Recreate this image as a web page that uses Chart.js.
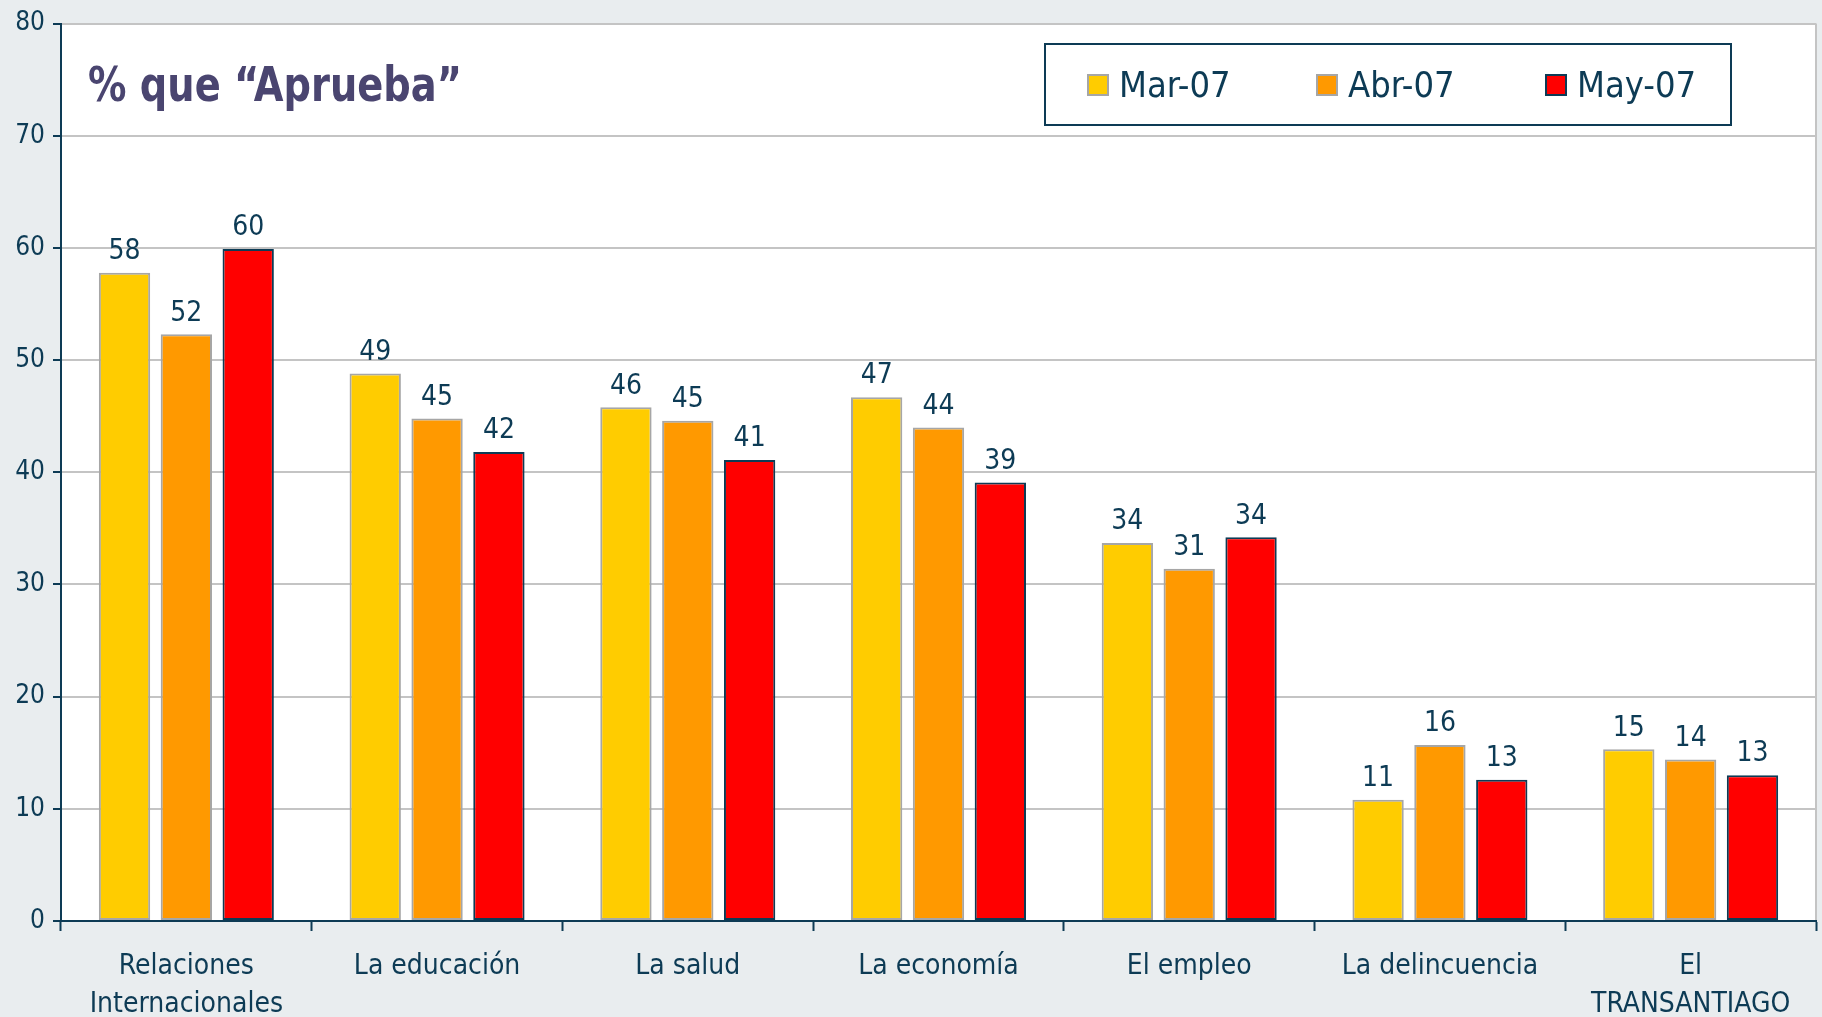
<!DOCTYPE html>
<html>
<head>
<meta charset="utf-8">
<script src="https://cdn.jsdelivr.net/npm/chart.js@4.4.0/dist/chart.umd.min.js"></script>
<style>
  body { margin: 0; background: #E9EDEF; }
  #wrap { width: 1822px; height: 1017px; }
</style>
</head>
<body>
<div id="wrap"><canvas id="chart1" width="1822" height="1017"></canvas></div>
<script>
// data
var categories = [['Relaciones', 'Internacionales'], 'La educación', 'La salud', 'La economía', 'El empleo', 'La delincuencia', ['El', 'TRANSANTIAGO']];
var seriesNames = ['Mar-07', 'Abr-07', 'May-07'];
var mar07 = [57.8, 48.8, 45.8, 46.7, 33.7, 10.8, 15.3];
var abr07 = [52.3, 44.8, 44.6, 44.0, 31.4, 15.7, 14.4];
var may07 = [59.9, 41.8, 41.1, 39.1, 34.2, 12.6, 13.0];
var yMin = 0, yMax = 80, yStep = 10;
var titleText = '% que \u201CAprueba\u201D';

var navy = '#0D3B55';
var fontFam = '"DejaVu Sans Condensed", "DejaVu Sans", sans-serif';

// white plot area + right border
var plotBg = {
  id: 'plotBg',
  beforeDraw: function(chart) {
    var c = chart.ctx, a = chart.chartArea;
    c.save();
    c.fillStyle = '#ffffff';
    c.fillRect(a.left, a.top, a.right - a.left, a.bottom - a.top);
    c.strokeStyle = '#C4C4C4';
    c.lineWidth = 2;
    c.beginPath();
    c.moveTo(a.right, a.top);
    c.lineTo(a.right, a.bottom);
    c.stroke();
    c.restore();
  }
};

// values above bars
var barLabels = {
  id: 'barLabels',
  afterDatasetsDraw: function(chart) {
    var c = chart.ctx;
    c.save();
    c.font = '28px ' + fontFam;
    c.fillStyle = navy;
    c.textAlign = 'center';
    c.textBaseline = 'bottom';
    chart.data.datasets.forEach(function(ds, i) {
      chart.getDatasetMeta(i).data.forEach(function(bar, j) {
        c.fillText(Math.round(ds.data[j]), bar.x, bar.y - 7);
      });
    });
    c.restore();
  }
};

// title and boxed legend inside the plot
var insideText = {
  id: 'insideText',
  afterDraw: function(chart) {
    var c = chart.ctx, a = chart.chartArea;
    c.save();
    // slightly taller than wide, like the original face
    c.font = 'bold 44px ' + fontFam;
    c.fillStyle = '#4A4570';
    c.textBaseline = 'alphabetic';
    c.textAlign = 'left';
    c.translate(a.left + 27, a.top + 77);
    c.scale(0.97, 1.1);
    c.fillText(titleText, 0, 0);
    c.setTransform(1, 0, 0, 1, 0, 0);

    var bx = 1045, by = 44, bw = 686, bh = 81;
    c.strokeStyle = navy;
    c.lineWidth = 2;
    c.fillStyle = '#ffffff';
    c.fillRect(bx, by, bw, bh);
    c.strokeRect(bx, by, bw, bh);
    var xs = [1088, 1317, 1546];
    c.font = '36px ' + fontFam;
    c.textBaseline = 'middle';
    chart.data.datasets.forEach(function(ds, i) {
      c.fillStyle = ds.backgroundColor;
      c.fillRect(xs[i], 75, 20, 20);
      c.strokeStyle = ds.borderColor;
      c.lineWidth = 2;
      c.strokeRect(xs[i], 75, 20, 20);
      c.fillStyle = navy;
      c.fillText(ds.label, xs[i] + 31, 88);
    });
    c.restore();
  }
};

var ctx = document.getElementById('chart1').getContext('2d');
var myChart = new Chart(ctx, {
  type: 'bar',
  data: {
    labels: categories,
    datasets: [
      { label: seriesNames[0], data: mar07, backgroundColor: '#FFCC00', borderColor: '#A6A6A6', borderWidth: 2, borderSkipped: false },
      { label: seriesNames[1], data: abr07, backgroundColor: '#FF9900', borderColor: '#A6A6A6', borderWidth: 2, borderSkipped: false },
      { label: seriesNames[2], data: may07, backgroundColor: '#FF0000', borderColor: navy, borderWidth: 2, borderSkipped: false }
    ]
  },
  options: {
    responsive: false,
    animation: false,
    categoryPercentage: 0.74,
    barPercentage: 0.83,
    layout: { padding: { top: 21, right: 6, left: 0, bottom: 0 } },
    plugins: {
      legend: { display: false },
      tooltip: { enabled: false }
    },
    scales: {
      x: {
        grid: { drawOnChartArea: false, drawTicks: true, tickLength: 10, tickColor: navy, tickWidth: 2, offset: true },
        border: { color: navy, width: 2 },
        ticks: { color: navy, font: { family: fontFam, size: 28, lineHeight: 1.35 }, padding: 17, maxRotation: 0, autoSkip: false },
        afterFit: function(s) { s.height = 96; }
      },
      y: {
        min: yMin, max: yMax,
        grid: { color: '#C4C4C4', lineWidth: 2, tickColor: navy, tickWidth: 2, tickLength: 8 },
        border: { color: navy, width: 2 },
        ticks: { stepSize: yStep, color: navy, font: { family: fontFam, size: 26 }, padding: 8 },
        afterFit: function(s) { s.width = 61; }
      }
    }
  },
  plugins: [plotBg, barLabels, insideText]
});
</script>
</body>
</html>
